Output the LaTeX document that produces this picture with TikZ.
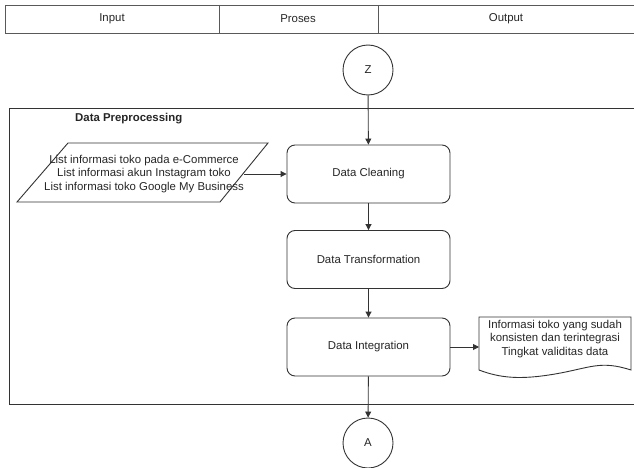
\documentclass[tikz,border=0pt]{standalone}
\usepackage{fontspec}
\setmainfont{Liberation Sans}
\usetikzlibrary{arrows.meta,shapes.geometric}
\begin{document}
\begin{tikzpicture}[x=1pt,y=-1pt,
  every node/.style={font=\fontsize{11.4}{13.5}\selectfont, text=black!85},
  line/.style={draw=black!80, line width=0.9pt},
  arr/.style={line, -{Triangle[length=6pt,width=6pt]}},
  proc/.style={line, rounded corners=8pt, minimum width=163pt, minimum height=58pt, align=center},
  conn/.style={line, circle, minimum size=50pt, inner sep=0pt}]
\useasboundingbox (0,0) rectangle (634,468);
\fill[white] (0,0) rectangle (634,468);
% header
\draw[draw=black!65, line width=0.9pt] (5,5) -- (634,5) (5,33) -- (634,33) (5,5) -- (5,33) (219,5) -- (219,33) (378,5) -- (378,33);
\node (hin) at (112,19) {Input};
\node (hpr) at (298,19) {Proses};
\node (hout) at (506,19) {Output};
% frame
\draw[line] (634,108) -- (9,108) -- (9,404) -- (634,404);
\node[font=\fontsize{11.4}{13.5}\selectfont\bfseries, anchor=west, inner sep=0pt] (title) at (75,119) {Data Preprocessing};
% connectors circles
\node[conn] (z) at (368,70) {Z};
\node[conn] (a) at (368,443) {A};
% process boxes
\node[proc] (clean) at (368.5,174) {Data Cleaning};
\node[proc] (trans) at (368.5,259.5) {Data Transformation};
\node[proc] (integ) at (368.5,347) {Data Integration};
% parallelogram input
\draw[line] (68,143) -- (268,143) -- (220,202) -- (17,202) -- cycle;
\coordinate (pin) at (244,174);
\node[align=center, inner sep=0pt] (inp) at (144,174) {List informasi toko pada e-Commerce\\List informasi akun Instagram toko\\List informasi toko Google My Business};
% document output
\draw[line] (479,317) -- (631,317) -- (631,370) .. controls (600,360) and (590,368) .. (555,374) .. controls (520,380) and (500,378) .. (479,370) -- cycle;
\coordinate (docin) at (479,347);
\node[align=center, inner sep=0pt] (doc) at (555,339) {Informasi toko yang sudah\\konsisten dan terintegrasi\\Tingkat validitas data};
% arrows
\draw[arr] (z) -- (clean);
\draw[arr] (pin) -- (clean);
\draw[arr] (clean) -- (trans);
\draw[arr] (trans) -- (integ);
\draw[arr] (integ) -- (docin);
\draw[arr] (integ) -- (a);
\end{tikzpicture}
\end{document}
